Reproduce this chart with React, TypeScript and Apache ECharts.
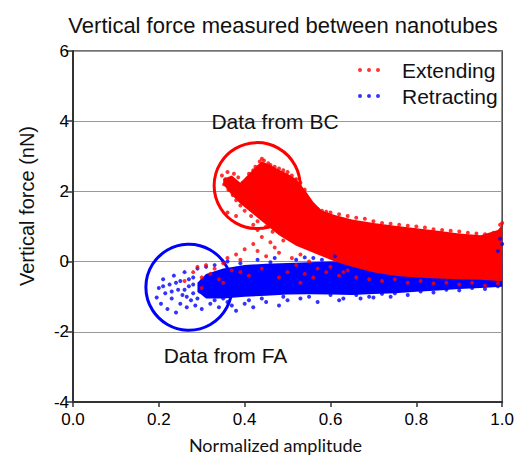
import React, { useEffect, useRef } from "react";
import * as echarts from "echarts";

// ---- Data ----
const xTicks = [0, 0.2, 0.4, 0.6, 0.8, 1.0];
const yTicks = [-4, -2, 0, 2, 4, 6];

// Dense core of the "Extending" cloud: x, lower edge, upper edge (nN)
const extBandX = [0.35, 0.37, 0.39, 0.41, 0.43, 0.44, 0.46, 0.48, 0.5, 0.52, 0.54, 0.56, 0.58, 0.61, 0.65, 0.7, 0.75, 0.8, 0.85, 0.9, 0.95, 0.99, 1.0];
const extBandHi = [2.35, 2.45, 2.25, 2.5, 2.75, 2.85, 2.75, 2.62, 2.5, 2.35, 2.05, 1.7, 1.45, 1.33, 1.2, 1.1, 1.02, 0.95, 0.88, 0.8, 0.75, 0.9, 1.05];
const extBandLo = [2.2, 1.9, 1.65, 1.45, 1.25, 1.15, 0.95, 0.75, 0.6, 0.45, 0.35, 0.25, 0.15, 0.0, -0.15, -0.3, -0.4, -0.45, -0.48, -0.5, -0.52, -0.55, -0.55];

// Dense core of the "Retracting" cloud
const retBandX = [0.29, 0.31, 0.35, 0.4, 0.45, 0.5, 0.55, 0.6, 0.65, 0.7, 0.75, 0.8, 0.85, 0.9, 0.95, 1.0];
const retBandHi = [-0.6, -0.35, -0.2, -0.1, -0.06, -0.04, -0.02, 0.0, 0.0, 0.0, 0.02, 0.05, 0.08, 0.12, 0.18, 0.3];
const retBandLo = [-0.85, -1.05, -1.05, -1.0, -0.97, -0.94, -0.93, -0.94, -0.95, -0.92, -0.9, -0.86, -0.82, -0.78, -0.75, -0.72];

// Scattered individual points around the clouds
const extendingPoints = [
  [0.347, 2.45], [0.352, 2.2], [0.355, 2.35], [0.36, 2.55], [0.362, 2.05], [0.368, 2.3], [0.372, 1.9], [0.375, 2.5],
  [0.38, 1.75], [0.385, 2.4], [0.39, 1.6], [0.395, 2.25], [0.4, 1.45], [0.405, 2.35], [0.41, 2.5], [0.415, 1.3],
  [0.42, 2.6], [0.425, 2.7], [0.43, 1.15], [0.435, 2.85], [0.44, 2.93], [0.445, 2.88], [0.45, 1.0], [0.455, 2.8],
  [0.46, 2.75], [0.465, 0.85], [0.47, 2.7], [0.48, 2.65], [0.49, 2.6], [0.5, 2.55], [0.51, 2.45], [0.52, 2.35],
  [0.53, 2.25], [0.54, 2.05], [0.545, 1.85], [0.55, 1.75], [0.56, 1.6], [0.57, 1.5], [0.58, 1.45], [0.59, 1.42],
  [0.6, 1.4], [0.62, 1.35], [0.64, 1.3], [0.66, 1.25], [0.68, 1.22], [0.7, 1.15], [0.72, 1.1], [0.74, 1.08],
  [0.76, 1.05], [0.78, 1.02], [0.8, 1.0], [0.82, 0.97], [0.84, 0.92], [0.86, 0.9], [0.88, 0.88], [0.9, 0.86],
  [0.92, 0.82], [0.94, 0.8], [0.96, 0.78], [0.98, 0.82], [0.995, 1.05], [1.0, 1.1],
  [0.28, -0.3], [0.29, -0.15], [0.3, -0.45], [0.31, -0.1], [0.32, -0.35], [0.33, -0.2], [0.34, -0.5], [0.35, -0.05],
  [0.36, 0.1], [0.37, -0.25], [0.38, 0.2], [0.39, 0.05], [0.4, 0.35], [0.41, -0.4], [0.42, 0.5], [0.43, 0.3],
  [0.44, 0.7], [0.45, 0.15], [0.46, 0.55], [0.47, 0.4], [0.48, 0.25], [0.49, 0.6], [0.5, -0.3], [0.51, 0.1],
  [0.52, -0.1], [0.53, 0.2], [0.54, -0.35], [0.55, 0.0], [0.57, -0.2], [0.59, -0.3], [0.62, -0.4], [0.64, -0.25],
  [0.43, 0.9], [0.47, 1.1], [0.51, 1.0], [0.38, 1.3], [0.36, 1.4], [0.42, 1.05],
  [0.26, -0.55], [0.3, -0.75], [0.35, -0.6], [0.39, -0.3], [0.44, -0.2], [0.48, -0.45], [0.53, -0.6], [0.56, -0.45],
  [0.6, -0.15], [0.63, -0.3], [0.66, -0.45], [0.69, -0.5], [0.72, -0.55], [0.75, -0.5], [0.78, -0.6], [0.81, -0.55],
  [0.84, -0.62], [0.87, -0.6], [0.9, -0.65], [0.93, -0.6], [0.96, -0.68], [0.99, -0.62],
];

const retractingPoints = [
  [0.195, -1.02], [0.2, -0.75], [0.205, -1.2], [0.21, -0.5], [0.215, -0.9], [0.22, -1.35], [0.225, -0.65], [0.23, -1.05],
  [0.235, -0.4], [0.24, -1.45], [0.245, -0.8], [0.25, -1.2], [0.25, -0.55], [0.255, -0.95], [0.26, -0.3], [0.265, -1.3],
  [0.27, -0.7], [0.275, -1.1], [0.28, -0.45], [0.285, -1.25], [0.29, -0.2], [0.295, -0.85], [0.3, -1.35], [0.31, -0.15],
  [0.32, -1.2], [0.33, -0.1], [0.34, -1.3], [0.35, -1.05], [0.36, 0.0], [0.37, -1.25], [0.38, -1.4], [0.39, -0.05],
  [0.4, -1.2], [0.42, -1.3], [0.43, 0.05], [0.45, -1.15], [0.47, 0.1], [0.48, -1.25], [0.5, -1.1], [0.52, 0.05],
  [0.53, -1.05], [0.55, -1.0], [0.57, -1.15], [0.6, -0.95], [0.63, -1.05], [0.66, -0.95], [0.69, -1.0], [0.72, -0.92],
  [0.75, -0.9], [0.78, -0.95], [0.81, -0.85], [0.84, -0.88], [0.87, -0.8], [0.9, -0.82], [0.93, -0.75], [0.96, -0.78],
  [0.99, -0.7], [1.0, 0.5], [0.995, 0.65], [0.99, 0.3], [0.56, 0.1], [0.58, 0.05], [0.61, 0.15], [0.54, 0.12],
  [0.21, -0.7], [0.23, -0.85], [0.24, -0.6], [0.26, -0.8], [0.265, -1.0], [0.27, -0.5], [0.28, -0.9], [0.28, -0.65],
  [0.29, -1.05], [0.3, -0.55], [0.31, -0.95], [0.32, -0.45], [0.33, -1.1], [0.34, -0.35], [0.36, -1.15], [0.38, -0.2],
  [0.41, -1.1], [0.44, -1.05], [0.46, -0.02], [0.49, -1.0], [0.62, -1.1], [0.67, -1.05], [0.7, -1.02], [0.74, -1.0],
];

// Highlight circle centres (data coordinates)
const bcCircle = [[0.429, 2.165]];
const faCircle = [[0.27, -0.73]];

const RED = "#ff0000";
const BLUE = "#0000ff";
const AXIS = "#333333";
const FONT = "Liberation Sans, Arial, sans-serif";

const dotsIcon =
  "path://M0,2a2,2 0 1,0 4,0a2,2 0 1,0 -4,0z M9,2a2,2 0 1,0 4,0a2,2 0 1,0 -4,0z M18,2a2,2 0 1,0 4,0a2,2 0 1,0 -4,0z";

function bandRenderer(xs: number[], lo: number[], hi: number[], color: string) {
  return (_params: any, api: any) => {
    const pts: number[][] = [];
    for (let i = 0; i < xs.length; i++) pts.push(api.coord([xs[i], hi[i]]));
    for (let i = xs.length - 1; i >= 0; i--) pts.push(api.coord([xs[i], lo[i]]));
    return { type: "polygon", shape: { points: pts }, style: { fill: color } };
  };
}

function circleRenderer(color: string) {
  return (_params: any, api: any) => {
    const c = api.coord([api.value(0), api.value(1)]);
    return {
      type: "circle",
      shape: { cx: c[0], cy: c[1], r: 43 },
      style: { fill: "none", stroke: color, lineWidth: 3 },
    };
  };
}

export default function App() {
  const ref = useRef<HTMLDivElement>(null);

  useEffect(() => {
    document.body.style.margin = "0";
    if (!ref.current) return;
    const chart = echarts.init(ref.current, undefined, { renderer: "svg" });
    chart.setOption({
      animation: false,
      backgroundColor: "#ffffff",
      grid: {
        left: 73,
        right: 14,
        top: 51,
        bottom: 53,
        show: true,
        borderColor: "#444444",
        borderWidth: 1.5,
        backgroundColor: "transparent",
      },
      xAxis: {
        type: "value",
        min: xTicks[0],
        max: xTicks[xTicks.length - 1],
        interval: 0.2,
        axisLine: { show: true, onZero: false, lineStyle: { color: AXIS, width: 2, opacity: 1 } },
        axisTick: { show: true, length: 5, lineStyle: { color: AXIS, width: 1.5 } },
        axisLabel: {
          margin: 9,
          fontFamily: FONT,
          fontSize: 17,
          color: "#000000",
          formatter: (v: number) => v.toFixed(1),
        },
        splitLine: { show: false },
      },
      yAxis: {
        type: "value",
        min: yTicks[0],
        max: yTicks[yTicks.length - 1],
        interval: 2,
        axisLine: { show: true, onZero: false, lineStyle: { color: AXIS, width: 2, opacity: 1 } },
        axisTick: { show: true, length: 7, lineStyle: { color: AXIS, width: 1.5 } },
        axisLabel: {
          margin: 4,
          fontFamily: FONT,
          fontSize: 17,
          color: "#000000",
        },
        splitLine: { show: true, lineStyle: { color: "#999999", width: 1.2 } },
      },
      legend: {
        data: ["Extending", "Retracting"],
        orient: "vertical",
        left: 353,
        top: 54,
        itemWidth: 22,
        itemHeight: 4,
        itemGap: 4,
        icon: dotsIcon,
        selectedMode: false,
        textStyle: {
          fontFamily: FONT,
          fontSize: 21,
          color: "#111111",
          lineHeight: 22,
          padding: [0, 0, 0, 17],
        },
      },
      graphic: [
        {
          type: "text",
          x: 283,
          y: 25,
          style: {
            text: "Vertical force measured between nanotubes",
            fontFamily: FONT,
            fontSize: 22,
            fill: "#111111",
            align: "center",
            verticalAlign: "middle",
          },
        },
        {
          type: "text",
          x: 275,
          y: 121,
          z: 10,
          style: {
            text: "Data from BC",
            fontFamily: FONT,
            fontSize: 21,
            fill: "#111111",
            align: "center",
            verticalAlign: "middle",
          },
        },
        {
          type: "text",
          x: 225.5,
          y: 355,
          style: {
            text: "Data from FA",
            fontFamily: FONT,
            fontSize: 21,
            fill: "#111111",
            align: "center",
            verticalAlign: "middle",
          },
        },
        {
          type: "text",
          x: 275.5,
          y: 445,
          style: {
            text: "Normalized amplitude",
            fontFamily: "Lato, Open Sans, sans-serif",
            fontSize: 18,
            fill: "#111111",
            align: "center",
            verticalAlign: "middle",
          },
        },
        {
          type: "text",
          x: 27,
          y: 206,
          rotation: Math.PI / 2,
          style: {
            text: "Vertical force (nN)",
            fontFamily: FONT,
            fontSize: 20,
            fill: "#111111",
            align: "center",
            verticalAlign: "middle",
          },
        },
      ],
      series: [
        {
          type: "custom",
          silent: true,
          clip: true,
          data: [[retBandX[0], retBandLo[0]]],
          renderItem: bandRenderer(retBandX, retBandLo, retBandHi, BLUE),
        },
        {
          name: "Retracting",
          type: "scatter",
          silent: true,
          symbolSize: 4,
          itemStyle: { color: BLUE },
          data: retractingPoints,
        },
        {
          type: "custom",
          silent: true,
          clip: true,
          data: [[extBandX[0], extBandLo[0]]],
          renderItem: bandRenderer(extBandX, extBandLo, extBandHi, RED),
        },
        {
          name: "Extending",
          type: "scatter",
          silent: true,
          symbolSize: 4,
          itemStyle: { color: RED },
          data: extendingPoints,
        },
        {
          type: "custom",
          silent: true,
          data: bcCircle,
          renderItem: circleRenderer(RED),
        },
        {
          type: "custom",
          silent: true,
          data: faCircle,
          renderItem: circleRenderer(BLUE),
        },
      ],
    });
    return () => chart.dispose();
  }, []);

  return <div ref={ref} style={{ width: 517, height: 455 }} />;
}
